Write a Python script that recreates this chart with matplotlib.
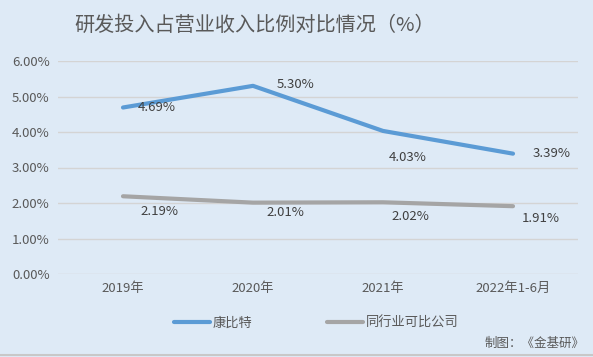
import matplotlib.pyplot as plt
from matplotlib.ticker import FuncFormatter

plt.rcParams['font.family'] = ['Noto Sans CJK SC', 'DejaVu Sans']

categories = ["2019年", "2020年", "2021年", "2022年1-6月"]
kangbite = [4.69, 5.30, 4.03, 3.39]
peers = [2.19, 2.01, 2.02, 1.91]
kangbite_labels = ["4.69%", "5.30%", "4.03%", "3.39%"]
peers_labels = ["2.19%", "2.01%", "2.02%", "1.91%"]

bg = "#DEEAF6"
blue = "#5B9BD5"
gray = "#A5A5A5"
text_col = "#595959"

fig = plt.figure(figsize=(5.93, 3.57), dpi=100, facecolor=bg)
ax = fig.add_axes([58 / 593, 1 - 274 / 357, 520 / 593, 213 / 357], facecolor=bg)

x = list(range(len(categories)))
ax.plot(x, kangbite, color=blue, lw=3, solid_capstyle="round", label="康比特")
ax.plot(x, peers, color=gray, lw=3, solid_capstyle="round", label="同行业可比公司")

ax.set_xlim(-0.5, 3.5)
ax.set_ylim(0, 6)
ax.set_yticks([0, 1, 2, 3, 4, 5, 6])
ax.yaxis.set_major_formatter(FuncFormatter(lambda v, p: "%.2f%%" % v))
ax.set_xticks(x)
ax.set_xticklabels(categories)
ax.tick_params(length=0, labelsize=9.5, colors=text_col, pad=6)
ax.grid(axis="y", color="#D4D4D4", lw=1)
ax.set_axisbelow(True)
for s in ax.spines.values():
    s.set_visible(False)

# data labels
k_off = [(24, 0), (31, 1), (18, -19), (28, 0)]
for i in range(len(x)):
    ax.annotate(kangbite_labels[i], (x[i], kangbite[i]), xytext=k_off[i],
                textcoords="offset points", ha="center", va="center",
                fontsize=9.5, color="#404040")
p_off = [(26, -11), (23, -7), (20, -10), (20, -9)]
for i in range(len(x)):
    ax.annotate(peers_labels[i], (x[i], peers[i]), xytext=p_off[i],
                textcoords="offset points", ha="center", va="center",
                fontsize=9.5, color="#404040")

fig.text(255 / 593, 1 - 25 / 357, "研发投入占营业收入比例对比情况（%）",
         ha="center", va="center", fontsize=14.5, color=text_col)

leg = fig.legend(loc="center", bbox_to_anchor=(316 / 593, 1 - 323 / 357), ncol=2,
                 frameon=False, fontsize=9.5, handlelength=2.7, columnspacing=5.7,
                 handletextpad=0.2)
for t in leg.get_texts():
    t.set_color(text_col)

fig.text(585 / 593, 1 - 343 / 357, "制图：《金基研》", ha="right", va="center",
         fontsize=9, color=text_col)

fig.add_artist(plt.Line2D([0, 1], [1 - 355 / 357] * 2, color="#C8C8C8", lw=1.5))

fig.savefig("out.png", dpi=100, facecolor=bg)
